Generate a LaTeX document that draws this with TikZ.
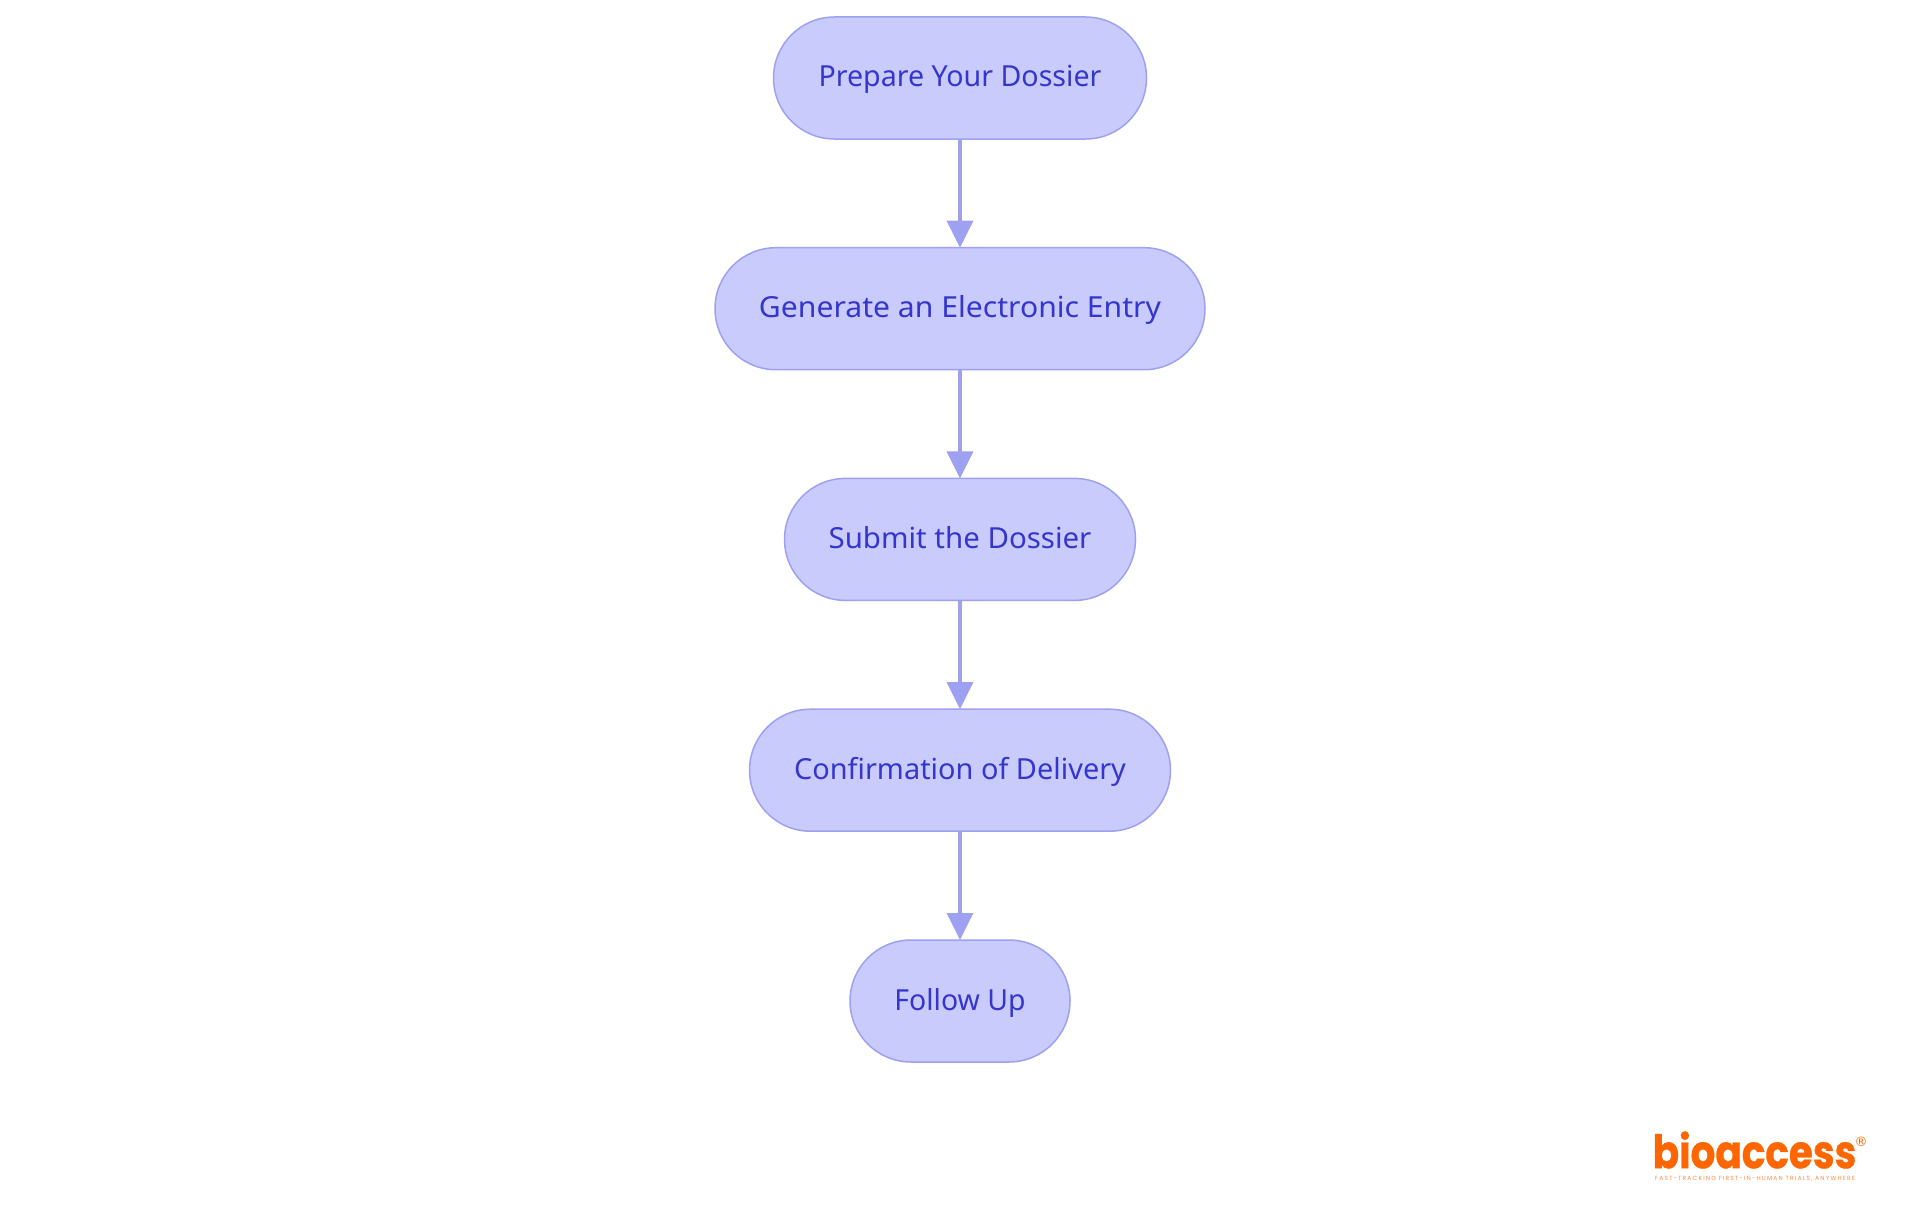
\documentclass[tikz,border=0pt]{standalone}
\usepackage{fontspec}
\setmainfont{Noto Sans}
\newfontfamily\logofont{Poppins}
\newfontfamily\regfont{DejaVu Sans}
\usetikzlibrary{arrows.meta}
\definecolor{nodefill}{HTML}{CACBFD}
\definecolor{nodeline}{HTML}{9EA1F2}
\definecolor{nodetext}{HTML}{3436CC}
\definecolor{logoorange}{HTML}{FF6600}
\tikzset{
  x=1pt,y=-1pt,
  pill/.style={draw=nodeline,fill=nodefill,line width=1.5pt,outer sep=0pt,rounded corners=61pt,minimum height=122pt,inner xsep=0pt,inner ysep=0pt,text=nodetext,text height=20pt,text depth=2pt,font=\fontsize{29}{34}\selectfont},
  flow/.style={draw=nodeline,line width=3.4pt,-{Triangle[length=27pt,width=26pt]}}
}
\begin{document}
\begin{tikzpicture}
\useasboundingbox (0,0) rectangle (1920,1215);
\node[pill,minimum width=373pt] (a) at (960,78) {\addfontfeature{FakeStretch=0.986}Prepare Your Dossier};
\node[pill,minimum width=490pt] (b) at (960,308.7) {\addfontfeature{FakeStretch=1.039}Generate an Electronic Entry};
\node[pill,minimum width=351pt] (c) at (960,539.4) {\addfontfeature{FakeStretch=1.015}Submit the Dossier};
\node[pill,minimum width=421pt] (d) at (960,770.2) {\addfontfeature{FakeStretch=0.997}Confirmation of Delivery};
\node[pill,minimum width=220pt] (e) at (960,1001) {\addfontfeature{FakeStretch=0.98}Follow Up};
\draw[flow] (a) -- (b);
\draw[flow] (b) -- (c);
\draw[flow] (c) -- (d);
\draw[flow] (d) -- (e);
\node[anchor=base west,text=logoorange,font=\logofont\bfseries\fontsize{46}{46}\selectfont\addfontfeature{FakeStretch=0.846,FakeBold=0.8},inner sep=0pt] (logo) at (1652.5,1168.2) {bioaccess};
\node[text=logoorange,font=\regfont\fontsize{13}{13}\selectfont,inner sep=0pt] (reg) at (1861,1141.7) {®};
\node[anchor=base west,text=logoorange!75,font=\logofont\fontsize{6}{6}\selectfont\addfontfeature{LetterSpace=19.6},inner sep=0pt] (tag) at (1655,1180) {FAST-TRACKING FIRST-IN-HUMAN TRIALS, ANYWHERE};
\end{tikzpicture}
\end{document}
